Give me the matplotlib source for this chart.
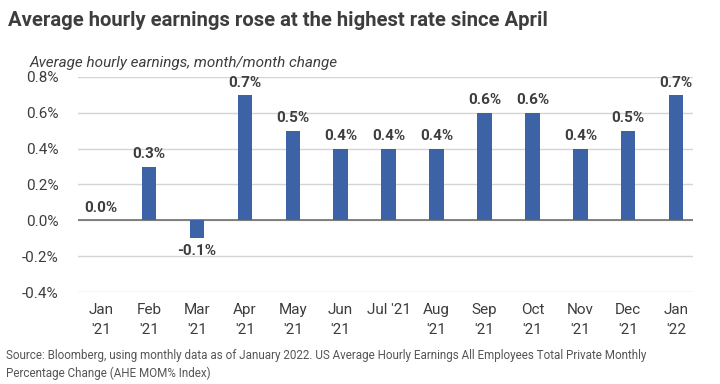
import matplotlib
matplotlib.use("Agg")
import matplotlib.pyplot as plt
from matplotlib.ticker import FuncFormatter

months = ["Jan\n'21", "Feb\n'21", "Mar\n'21", "Apr\n'21", "May\n'21", "Jun\n'21", "Jul '21",
          "Aug\n'21", "Sep\n'21", "Oct\n'21", "Nov\n'21", "Dec\n'21", "Jan\n'22"]
values = [0.0, 0.3, -0.1, 0.7, 0.5, 0.4, 0.4, 0.4, 0.6, 0.6, 0.4, 0.5, 0.7]
yticks = [-0.4, -0.2, 0.0, 0.2, 0.4, 0.6, 0.8]

plt.rcParams['font.family'] = ['Roboto', 'DejaVu Sans']
text_col = '#3d3d3d'

fig = plt.figure(figsize=(7.2, 3.84), dpi=100)
ax = fig.add_axes([78/720, 1 - 292/384, (693-78)/720, (292-77)/384])

x = list(range(len(months)))
ax.bar(x, values, width=0.3, color='#3b63a6', zorder=3)
for xi, v in zip(x, values):
    if v >= 0:
        ax.text(xi, v + 0.03, f"{v:.1f}%", ha='center', va='bottom', fontsize=11,
                fontweight='bold', color=text_col, zorder=4)
    else:
        ax.text(xi, v - 0.03, f"{v:.1f}%", ha='center', va='top', fontsize=11,
                fontweight='bold', color=text_col, zorder=4)

ax.set_ylim(-0.4, 0.8)
ax.set_xlim(-0.48, 12.35)
ax.set_yticks(yticks)
ax.yaxis.set_major_formatter(FuncFormatter(lambda v, p: f"{v:.1f}%"))
ax.set_xticks(x)
ax.set_xticklabels(months, fontsize=11, color=text_col, linespacing=1.5)
ax.tick_params(axis='y', labelsize=11, labelcolor=text_col, length=0, pad=14)
ax.tick_params(axis='x', length=0, pad=8)
ax.grid(axis='y', color='#d4d4d4', linewidth=1, zorder=0)
ax.axhline(0, color='#6e6e6e', linewidth=1.2, zorder=2)
for s in ax.spines.values():
    s.set_visible(False)

fig.text(8/720, 1 - 20/384, "Average hourly earnings rose at the highest rate since April",
         fontsize=14.6, fontweight='bold', color=text_col, va='center', ha='left')
fig.text(30/720, 1 - 63/384, "Average hourly earnings, month/month change",
         fontsize=11, fontstyle='italic', color=text_col, va='center', ha='left')
fig.text(6/720, 1 - 355/384,
         "Source: Bloomberg, using monthly data as of January 2022. US Average Hourly Earnings All Employees Total Private Monthly",
         fontsize=8.4, color='#555555', va='center', ha='left')
fig.text(6/720, 1 - 373/384, "Percentage Change (AHE MOM% Index)",
         fontsize=8.4, color='#555555', va='center', ha='left')

fig.savefig("out.png", dpi=100)
